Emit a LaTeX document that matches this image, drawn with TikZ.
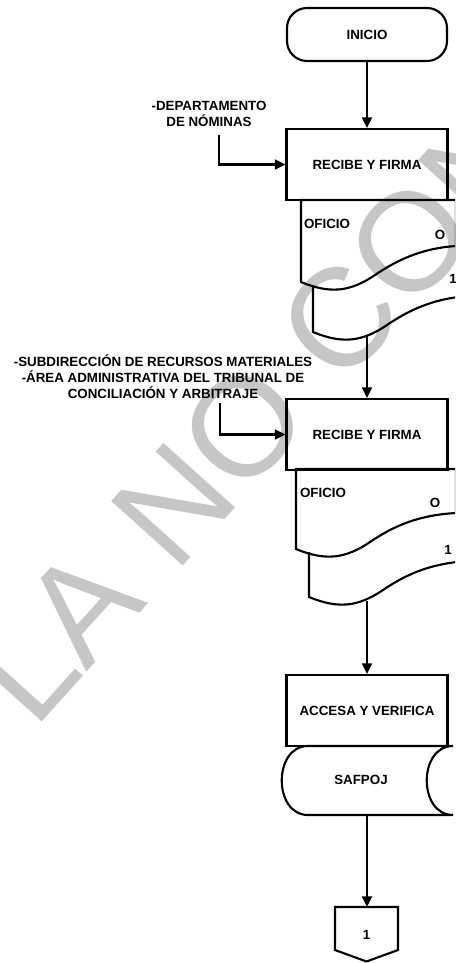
\documentclass[tikz,border=0pt]{standalone}
\usepackage{fontspec}
\setmainfont{Liberation Sans}
\usetikzlibrary{arrows.meta}

\begin{document}
\begin{tikzpicture}[
    x=0.75pt, y=-0.75pt,
    font=\fontsize{10}{12}\selectfont\bfseries,
    line width=1.6pt,
    term/.style={rectangle, rounded corners=15pt, draw, minimum width=120pt, minimum height=39.75pt},
    box/.style={rectangle, draw, align=center, minimum width=120.75pt, minimum height=53.25pt, inner sep=0pt},
    lbl/.style={align=center, inner sep=0pt},
    txt/.style={inner sep=0pt},
    marca/.style={text=gray!45, inner sep=0pt, font=\fontsize{105}{105}\selectfont\mdseries},
    arr/.style={-{Triangle[length=8pt,width=7.5pt]}}
  ]
    \useasboundingbox (0,0) rectangle (455,963);
    \clip (0,0) rectangle (455,963);

    % marca de agua
    \node[marca, rotate=48, anchor=base west] (marca) at (34,731) {LA NO CONT};

    \node[term] (inicio) at (367,34.5) {INICIO};
    \node[box] (recibe1) at (367,164.5) {RECIBE Y FIRMA};
    \node[lbl] (nominas) at (209,114) {-DEPARTAMENTO\\DE NÓMINAS};
    \coordinate (nominas-in) at (219,135);

    % oficio 1 (original y copia)
    \draw (313,286) -- (313,332) .. controls (342,344) and (362,342) .. (387,325) .. controls (412,308) and (437,298) .. (469,296);
    \draw (301,200) -- (301,282) .. controls (330,294) and (350,292) .. (375,275) .. controls (400,258) and (425,248) .. (456,246) -- (456,200) -- cycle;
    \node[txt, anchor=west] (oficio1) at (303,224) {OFICIO};
    \node[txt] (orig1) at (440,235) {O};
    \node[txt] (copia1) at (453,279) {1};
    \coordinate (oficio1-out) at (367,336);

    \node[box] (recibe2) at (367,434.5) {RECIBE Y FIRMA};
    \node[lbl] (areas) at (163,377) {-SUBDIRECCIÓN DE RECURSOS MATERIALES\\-ÁREA ADMINISTRATIVA DEL TRIBUNAL DE\\CONCILIACIÓN Y ARBITRAJE};
    \coordinate (areas-in) at (220,403);

    % oficio 2 (original y copia)
    \draw (309,552) -- (309,597) .. controls (338,609) and (358,607) .. (383,590) .. controls (408,573) and (433,563) .. (469,561);
    \draw (296,469) -- (296,549) .. controls (325,561) and (345,559) .. (370,542) .. controls (395,525) and (420,515) .. (456,513) -- (456,469) -- cycle;
    \node[txt, anchor=west] (oficio2) at (299,493) {OFICIO};
    \node[txt] (orig2) at (435,503) {O};
    \node[txt] (copia2) at (448,550) {1};
    \coordinate (oficio2-out) at (367,601);

    \node[box] (accesa) at (367,710.5) {ACCESA Y VERIFICA};

    % sistema
    \draw (308,746) -- (453,746) .. controls (418,746) and (418,815) .. (453,815) -- (308,815) .. controls (273,815) and (273,746) .. cycle;
    \node[txt] (safpoj) at (361,780) {SAFPOJ};
    \coordinate (safpoj-out) at (367,815);

    % conector fuera de pagina
    \draw (335,907) -- (398,907) -- (398,950) -- (366.5,961.5) -- (335,950) -- cycle;
    \node[txt] (salida) at (366.5,935) {1};
    \coordinate (salida-in) at (367,907);

    \draw[arr] (inicio) -- (recibe1);
    \draw[arr] (nominas-in) |- (recibe1);
    \draw[arr] (oficio1-out) -- (recibe2);
    \draw[arr] (areas-in) |- (recibe2);
    \draw[arr] (oficio2-out) -- (accesa);
    \draw[arr] (safpoj-out) -- (salida-in);
  \end{tikzpicture}
\end{document}
